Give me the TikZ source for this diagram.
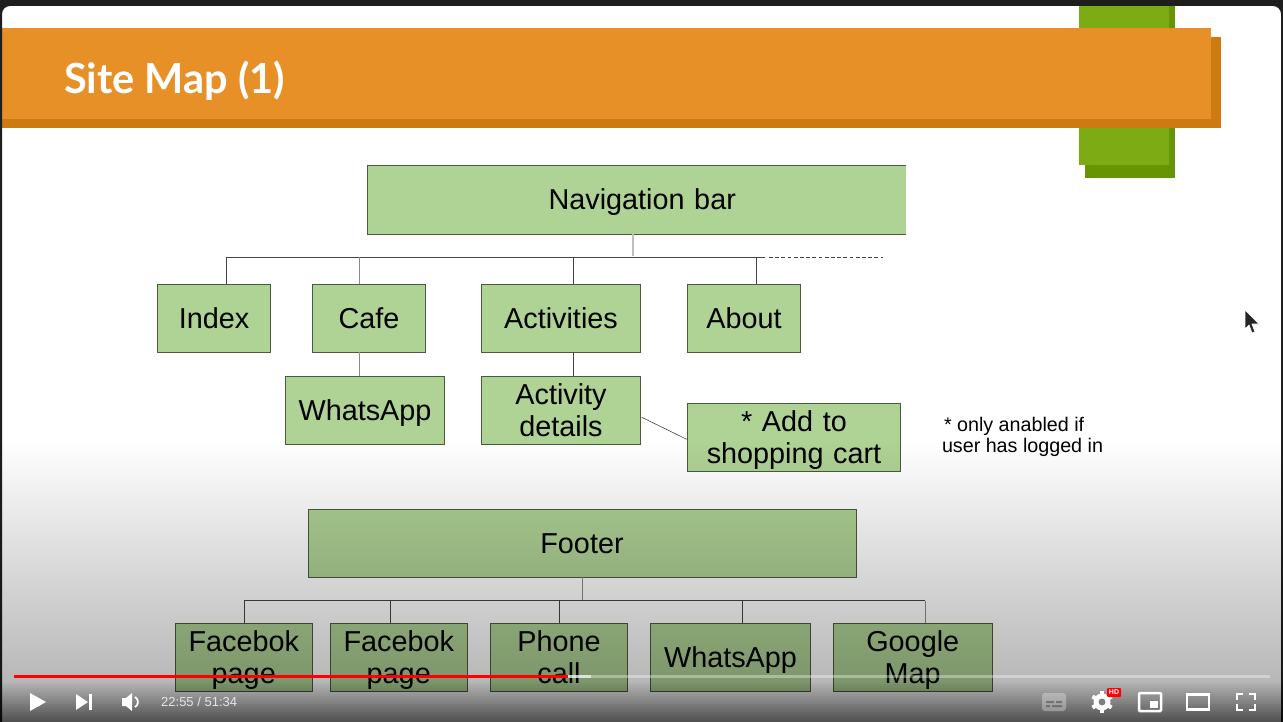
\documentclass[tikz,border=0pt]{standalone}
\usepackage{fontspec}
\setmainfont{Liberation Sans}
\newfontfamily\titlefont{Lato}
\definecolor{orangeA}{HTML}{E79028}
\definecolor{orangeB}{HTML}{CE7A12}
\definecolor{greenA}{HTML}{7DAB14}
\definecolor{greenB}{HTML}{669402}
\definecolor{boxfill}{HTML}{AFD295}
\definecolor{boxline}{HTML}{4A5A40}
\definecolor{frame}{HTML}{1E1E1E}
\definecolor{linkdark}{HTML}{444444}
\definecolor{linkgray}{HTML}{8A8A8A}
\definecolor{linklight}{HTML}{BEBEBE}
\tikzset{
  sitebox/.style={draw=boxline,line width=0.8pt,fill=boxfill,inner sep=0pt,outer sep=0pt,align=center,font=\fontsize{28.8}{32}\selectfont,text=black,text height=22pt,text depth=2pt},
  twolines/.style={sitebox,text depth=34pt},
  link/.style={draw=linkdark,line width=0.8pt},
  softlink/.style={draw=linkgray,line width=0.8pt},
  lightlink/.style={draw=linklight,line width=1.3pt},
  notetext/.style={inner sep=0pt,align=left,font=\fontsize{19.7}{21.5}\selectfont,text=black},
}
\newcommand{\boxat}[7][sitebox]{% style, name, x0, y0, x1, y1, text
  \pgfmathsetmacro{\bw}{#5-#3-0.5}\pgfmathsetmacro{\bh}{#6-#4-0.5}
  \node[#1,minimum width=\bw pt,minimum height=\bh pt,text width=\bw pt,anchor=north west] (#2) at (#3,#4) {#7};}
\begin{document}
\begin{tikzpicture}[x=1pt,y=-1pt]
\useasboundingbox (0,0) rectangle (1283,722);
\fill[white] (0,0) rectangle (1283,722);
% slide decoration
\fill[greenB] (1085,6) rectangle (1175,178);
\fill[greenA] (1079,6) rectangle (1169,165);
\fill[orangeB] (2,37) -- (1221,37) -- (1221,128) -- (2,128) -- cycle;
\fill[orangeA] (2,28) rectangle (1211,119);
\node[inner sep=0pt,anchor=west,text=white,font=\titlefont\bfseries\fontsize{41.5}{44}\selectfont] (title) at (64,81) {Site Map (1)};
% boxes
\boxat[sitebox,draw=none]{nav}{367.5}{165.5}{906.5}{234.5}{\hspace*{11pt}Navigation bar}
\draw[draw=boxline,line width=0.8pt] (nav.north east) -- (nav.north west) -- (nav.south west) -- (nav.south east);
\boxat{index}{157.5}{284.5}{271}{352.5}{Index}
\boxat{cafe}{312.5}{284.5}{426}{352.5}{Cafe}
\boxat{act}{481.5}{284.5}{641}{352.5}{Activities}
\boxat{about}{687.5}{284.5}{801}{352.5}{About}
\boxat{wa}{285.5}{376}{445}{444.5}{WhatsApp}
\boxat[twolines]{det}{481.5}{376}{641}{444.5}{Activity\\details}
\boxat[twolines]{cart}{687.5}{403}{901}{471.5}{* Add to\\shopping cart}
\boxat{foot}{308}{509}{856.5}{577.5}{Footer}
\boxat[twolines]{fb1}{175.5}{623}{312.5}{691.5}{Facebok\\page}
\boxat[twolines]{fb2}{330.5}{623}{467.5}{691.5}{Facebok\\page}
\boxat[twolines]{ph}{490.5}{623}{628}{691.5}{Phone\\call}
\boxat{wb}{650.5}{623}{811}{691.5}{WhatsApp}
\boxat[twolines]{gm}{833}{623}{993}{691.5}{Google\\Map}
\node[notetext] (note) at (1022.5,437) {\hspace*{2pt}* only anabled if\\user has logged in};
% nav connectors
\coordinate (n0) at (633,256);
\coordinate (n1) at (226,257.5);
\coordinate (n2) at (359,257.5);
\coordinate (n3) at (573,257.5);
\coordinate (n4) at (756.5,257.5);
\coordinate (n4b) at (765,257.5);
\coordinate (n5) at (883,257.5);
\draw[lightlink] (n0 |- nav.south) -- (n0);
\draw[link] (n1) -- (n4b);
\draw[link,dash pattern=on 3.8pt off 2.4pt] (n4b) ++(4,0) -- (n5);
\draw[link] (n1) -- (n1 |- index.north);
\draw[softlink] (n2) -- (n2 |- cafe.north);
\draw[link] (n3) -- (n3 |- act.north);
\draw[link] (n4) -- (n4 |- about.north);
\draw[softlink] (n2 |- cafe.south) -- (n2 |- wa.north);
\draw[link] (n3 |- act.south) -- (n3 |- det.north);
\coordinate (d1) at (641.7,417.3);
\coordinate (d2) at (686.7,439.3);
\draw[draw=linkdark,line width=0.6pt] (d1) -- (d2);
% footer connectors
\coordinate (f0) at (582,600.5);
\coordinate (f1) at (244,600.5);
\coordinate (f2) at (390,600.5);
\coordinate (f3) at (559,600.5);
\coordinate (f4) at (742,600.5);
\coordinate (f5) at (925,600.5);
\draw[softlink] (f0 |- foot.south) -- (f0);
\draw[link] (f1) -- (f5);
\draw[link] (f1) -- (f1 |- fb1.north);
\draw[link] (f2) -- (f2 |- fb2.north);
\draw[link] (f3) -- (f3 |- ph.north);
\draw[link] (f4) -- (f4 |- wb.north);
\draw[softlink] (f5) -- (f5 |- gm.north);
% frame
\fill[frame,even odd rule] (0,0) rectangle (1283,722)
  (2,722) -- (2,14) arc[start angle=180,end angle=270,radius=8] -- (1273,6) arc[start angle=270,end angle=360,radius=8] -- (1281,722) -- cycle;
% player gradient overlay
\foreach \yy in {440,442,...,720}{
  \pgfmathsetmacro{\op}{\yy<610 ? 0.20*(\yy-440)/170 : (\yy<680 ? 0.20+0.08*(\yy-610)/70 : 0.28+0.42*(\yy-680)/42)}
  \fill[black,fill opacity=\op] (0,\yy) rectangle (1283,\yy+2);
}
% player bar
\fill[white,fill opacity=0.35] (14,675) rectangle (1270,678);
\fill[white,fill opacity=0.6] (560,675) rectangle (591,678);
\fill[red] (14,675) rectangle (568,678);
% player controls
\fill[white] (30,693) -- (46,702) -- (30,711) -- cycle;
\fill[white] (76,694) -- (88,702) -- (76,710) -- cycle;
\fill[white] (89,694) rectangle (92,710);
\fill[white] (122,698) -- (126,698) -- (132,693) -- (132,711) -- (126,706) -- (122,706) -- cycle;
\draw[white,line width=1.8pt] (135,697) arc[start angle=-60,end angle=60,radius=5.8];
\node[inner sep=0pt,anchor=west,text=white,text opacity=0.8,font=\fontsize{13}{15}\selectfont] (time) at (161,702) {22:55 / 51:34};
\fill[white,fill opacity=0.3,rounded corners=3pt] (1042,693) rectangle (1066,711);
\fill[black,fill opacity=0.3] (1046,701) rectangle (1054,703) (1056,701) rectangle (1062,703) (1046,705) rectangle (1050,707) (1052,705) rectangle (1062,707);
\fill[white] (1102,702) circle[radius=8.5];
\fill[gray] (1102,702) circle[radius=3.5];
\foreach \a in {0,60,...,300}{\fill[white,rotate around={\a:(1102,702)}] (1100,691) rectangle (1104,695);}
\fill[red,rounded corners=1pt] (1107,688) rectangle (1121,697);
\node[inner sep=0pt,text=white,font=\bfseries\fontsize{7}{8}\selectfont] (hd) at (1114,692.5) {HD};
\draw[white,line width=2.5pt,rounded corners=1pt] (1139,693) rectangle (1161,711);
\fill[white] (1150,701) rectangle (1158,708);
\draw[white,line width=2.5pt] (1187,694.5) rectangle (1209,709.5);
\draw[white,line width=2.8pt] (1237,700) -- (1237,694) -- (1243,694) (1249,694) -- (1255,694) -- (1255,700) (1255,704) -- (1255,710) -- (1249,710) (1243,710) -- (1237,710) -- (1237,704);
% cursor
\fill[black!85,draw=white,line width=0.7pt] (1245,310) -- (1245,329) -- (1249,325) -- (1252,333) -- (1255,332) -- (1252,324) -- (1259,324) -- cycle;
\end{tikzpicture}
\end{document}
